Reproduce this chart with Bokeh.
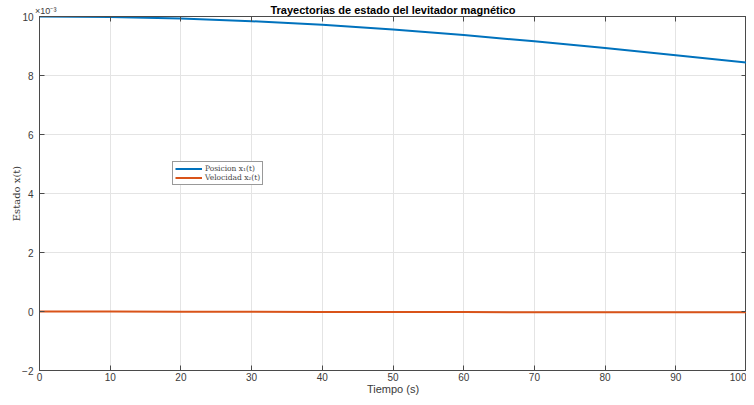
from bokeh.plotting import figure
from bokeh.models import Range1d, FixedTicker, LinearAxis, Legend, LegendItem
from bokeh.embed import file_html
from bokeh.resources import INLINE

# Data (state values in units of 1e-3)
tiempo = [0, 10, 20, 30, 40, 50, 60, 70, 80, 90, 100]
posicion = [10.0, 9.98, 9.93, 9.84, 9.72, 9.56, 9.37, 9.16, 8.93, 8.69, 8.44]
velocidad = [0.0, -0.003, -0.007, -0.011, -0.014, -0.018, -0.020, -0.022, -0.024, -0.025, -0.025]
x_ticks = [0, 10, 20, 30, 40, 50, 60, 70, 80, 90, 100]
y_ticks = [-2, 0, 2, 4, 6, 8, 10]
titulo = "Trayectorias de estado del levitador magn\u00e9tico"
exponente = "\u00d710\u207b\u00b3"

AX = "#4a4a4a"
TXT = "#3a3a3a"
FONT = "Liberation Sans"

W, H = 746, 397
BL, BR, BT, BB = 39, 0, 16, 26

p = figure(width=W, height=H, output_backend="svg", toolbar_location=None,
           x_range=Range1d(0, 100), y_range=Range1d(-2, 10),
           min_border_left=BL, min_border_right=BR, min_border_top=BT, min_border_bottom=BB)
p.outline_line_color = AX
p.outline_line_width = 1
p.background_fill_color = "white"

p.xaxis.ticker = FixedTicker(ticks=x_ticks)
p.yaxis.ticker = FixedTicker(ticks=y_ticks)
p.xgrid.ticker = FixedTicker(ticks=x_ticks)
p.ygrid.ticker = FixedTicker(ticks=y_ticks)
p.grid.grid_line_color = "#e4e4e4"
p.grid.grid_line_width = 1

for ax in [p.xaxis[0], p.yaxis[0]]:
    ax.axis_line_color = AX
    ax.major_tick_line_color = AX
    ax.major_tick_in = 5
    ax.major_tick_out = 0
    ax.minor_tick_line_color = None
    ax.major_label_text_font = FONT
    ax.major_label_text_font_size = "10px"
    ax.major_label_text_color = TXT
    ax.axis_label_text_font_style = "normal"
    ax.axis_label_text_color = TXT
p.xaxis.major_label_standoff = 2
p.yaxis.major_label_standoff = 6

p.xaxis.axis_label = "Tiempo (s)"
p.xaxis.axis_label_text_font = FONT
p.xaxis.axis_label_text_font_size = "11px"
p.xaxis.axis_label_standoff = -1

p.yaxis.axis_label = "Estado x(t)"
p.yaxis.axis_label_text_font = "DejaVu Serif"
p.yaxis.axis_label_text_font_size = "10px"
p.yaxis.axis_label_standoff = -3

# top axis: inner ticks, exponent marker at the left and the title on the same row
top_labels = {t: "" for t in x_ticks}
top_labels[0] = "\u00a0" * 5 + exponente
top = LinearAxis(ticker=FixedTicker(ticks=x_ticks), major_label_overrides=top_labels,
                 major_label_text_font=FONT, major_label_text_font_size="9px",
                 major_label_text_color=TXT, major_label_standoff=1,
                 axis_line_color=AX, major_tick_line_color=AX, major_tick_in=5, major_tick_out=0,
                 minor_tick_line_color=None,
                 axis_label=titulo, axis_label_text_font=FONT, axis_label_text_font_size="11px",
                 axis_label_text_font_style="bold", axis_label_text_color="black",
                 axis_label_standoff=-13)
right = LinearAxis(ticker=FixedTicker(ticks=y_ticks),
                   major_label_overrides={t: "" for t in y_ticks},
                   axis_line_color=AX, major_tick_line_color=AX, major_tick_in=5, major_tick_out=0,
                   minor_tick_line_color=None, major_label_standoff=0)
p.add_layout(top, "above")
p.add_layout(right, "right")

r1 = p.line(tiempo, posicion, line_color="#0072BD", line_width=2)
r2 = p.line(tiempo, velocidad, line_color="#D95319", line_width=2)

legend = Legend(items=[LegendItem(label="Posicion x\u2081(t)", renderers=[r1]),
                       LegendItem(label="Velocidad x\u2082(t)", renderers=[r2])],
                location=(133, 185))
legend.label_text_font = "DejaVu Serif"
legend.label_text_font_size = "7.5px"
legend.label_height = 7
legend.glyph_height = 7
legend.glyph_width = 27
legend.spacing = 0
legend.padding = 2
legend.margin = 0
legend.label_standoff = 3
legend.border_line_color = "#333333"
legend.border_line_width = 1
legend.background_fill_alpha = 1
p.add_layout(legend, "center")

open("out.html", "w").write(file_html(p, INLINE))
